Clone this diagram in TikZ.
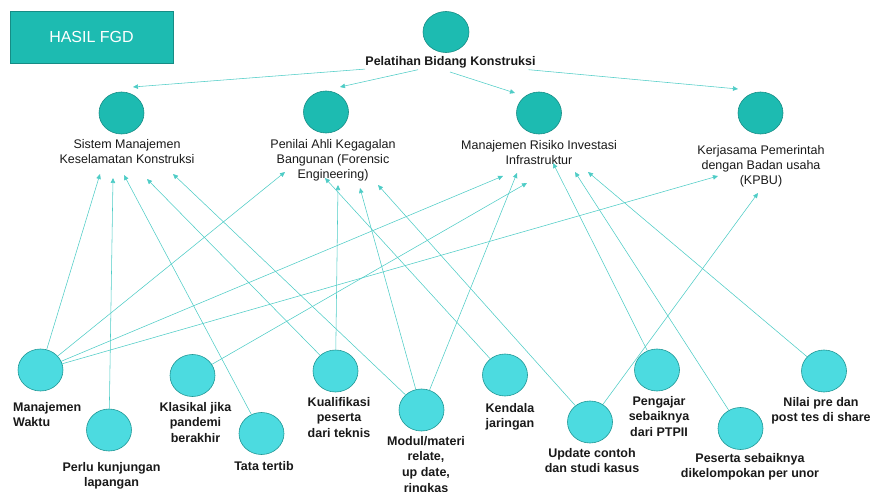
\documentclass[tikz,border=0pt]{standalone}
\usepackage{fontspec}
\setmainfont{Liberation Sans}
\usetikzlibrary{shapes.geometric,arrows.meta}
\definecolor{tealdark}{RGB}{29,187,177}
\definecolor{tealedge}{RGB}{22,140,133}
\definecolor{cyanlight}{RGB}{76,219,224}
\definecolor{cyanedge}{RGB}{30,150,148}
\definecolor{linkcol}{RGB}{78,204,198}
\definecolor{txt}{RGB}{25,25,25}
\tikzset{
  topic/.style={ellipse, draw=tealedge, fill=tealdark, line width=0.6pt,
    minimum width=45pt, minimum height=42pt, inner sep=0pt},
  idea/.style={ellipse, draw=cyanedge, fill=cyanlight, line width=0.6pt,
    minimum width=45pt, minimum height=42pt, inner sep=0pt},
  toplbl/.style={anchor=north, align=center, inner sep=0pt, text=txt,
    font=\fontsize{12.5}{15}\selectfont},
  botlbl/.style={anchor=north, align=center, inner sep=0pt, text=txt,
    font=\bfseries\fontsize{12.5}{15.7}\selectfont},
  link/.style={draw=linkcol, line width=0.55pt,
    -{Triangle[length=5pt,width=4.5pt]}},
}
\begin{document}
\begin{tikzpicture}[x=1pt,y=-1pt]
\useasboundingbox (0,0) rectangle (871,492);

% title box
\node[draw=tealedge, fill=tealdark, line width=0.5pt, minimum width=163pt,
  minimum height=52pt, inner sep=0pt, text=white,
  font=\fontsize{16}{19}\selectfont] (hasil) at (91.5,37) {HASIL FGD};

% root topic
\node[ellipse, draw=tealedge, fill=tealdark, line width=0.6pt,
  minimum width=46pt, minimum height=41pt, inner sep=0pt] (pel) at (446,32) {};
\node[anchor=center, inner sep=0pt, minimum height=14pt, text=txt,
  font=\bfseries\fontsize{12.5}{15}\selectfont] (pelL) at (450.5,62.5)
  {Pelatihan Bidang Konstruksi};

% second-level topics
\node[topic] (sist) at (121.5,113) {};
\node[topic] (pen)  at (326,112) {};
\node[topic] (risk) at (539,113) {};
\node[topic] (kpbu) at (760.5,113) {};
\node[toplbl] (sistL) at (127,139) {Sistem Manajemen\\Keselamatan Konstruksi};
\node[toplbl] (penL)  at (333,139) {Penilai Ahli Kegagalan\\Bangunan (Forensic\\Engineering)};
\node[toplbl] (riskL) at (539,140) {Manajemen Risiko Investasi\\Infrastruktur};
\node[toplbl] (kpbuL) at (761,145) {Kerjasama Pemerintah\\dengan Badan usaha\\(KPBU)};

% FGD findings
\node[idea] (mw)    at (40.5,370) {};
\node[idea] (perlu) at (109,430) {};
\node[idea] (klas)  at (192.5,375.5) {};
\node[idea] (tata)  at (261.5,433.5) {};
\node[idea] (kual)  at (335.5,371) {};
\node[idea] (modul) at (421.5,410) {};
\node[idea] (kend)  at (505,375) {};
\node[idea] (upd)   at (590,422) {};
\node[idea] (peng)  at (657,370) {};
\node[idea] (pes)   at (740.5,428.5) {};
\node[idea] (nilai) at (824,371) {};

\node[botlbl, anchor=north west, align=left] (mwL) at (13,402) {Manajemen\\Waktu};
\node[botlbl] (perluL) at (111.5,462) {Perlu kunjungan\\lapangan};
\node[botlbl] (klasL)  at (195.5,402) {Klasikal jika\\pandemi\\berakhir};
\node[botlbl] (tataL)  at (264,461) {Tata tertib};
\node[botlbl] (kualL)  at (339,397) {Kualifikasi\\peserta\\dari teknis};
\node[botlbl] (modulL) at (426,436) {Modul/materi\\relate,\\up date,\\ringkas};
\node[botlbl] (kendL)  at (510,403) {Kendala\\jaringan};
\node[botlbl] (updL)   at (592,448) {Update contoh\\dan studi kasus};
\node[botlbl] (pengL)  at (659,396) {Pengajar\\sebaiknya\\dari PTPII};
\node[botlbl] (pesL)   at (750,453) {Peserta sebaiknya\\dikelompokan per unor};
\node[botlbl] (nilaiL) at (821,397) {Nilai pre dan\\post tes di share};

% arrow tips under the topic labels
\coordinate (tt1) at (133,87);
\coordinate (tt2) at (340,87);
\coordinate (tt3) at (515,93);
\coordinate (tt4) at (738,89);
\coordinate (ts3) at (450,72);
\coordinate (tS1) at (100,174);
\coordinate (tS2) at (113,178);
\coordinate (tS3) at (124,175);
\coordinate (tS4) at (147,179);
\coordinate (tS5) at (173,174);
\coordinate (tP1) at (285,172);
\coordinate (tP2) at (325,178);
\coordinate (tP3) at (338,185);
\coordinate (tP4) at (360,188);
\coordinate (tP5) at (378,185);
\coordinate (tR1) at (503,176);
\coordinate (tR2) at (517,173);
\coordinate (tR3) at (527,183);
\coordinate (tR4) at (553,163);
\coordinate (tR5) at (575,172);
\coordinate (tR6) at (588,172);
\coordinate (tK1) at (718,176);
\coordinate (tK2) at (758,193);

% root to topics
\draw[link] (pelL) -- (tt1);
\draw[link] (pelL) -- (tt2);
\draw[link] (ts3) -- (tt3);
\draw[link] (pelL) -- (tt4);

% findings to topics
\draw[link] (mw) -- (tS1);
\draw[link] (mw) -- (tP1);
\draw[link] (mw) -- (tR1);
\draw[link] (mw) -- (tK1);
\draw[link] (perlu) -- (tS2);
\draw[link] (tata) -- (tS3);
\draw[link] (kual) -- (tS4);
\draw[link] (kual) -- (tP3);
\draw[link] (modul) -- (tS5);
\draw[link] (modul) -- (tP4);
\draw[link] (modul) -- (tR2);
\draw[link] (klas) -- (tR3);
\draw[link] (kend) -- (tP2);
\draw[link] (upd) -- (tP5);
\draw[link] (upd) -- (tK2);
\draw[link] (peng) -- (tR4);
\draw[link] (pes) -- (tR5);
\draw[link] (nilai) -- (tR6);
\end{tikzpicture}
\end{document}
